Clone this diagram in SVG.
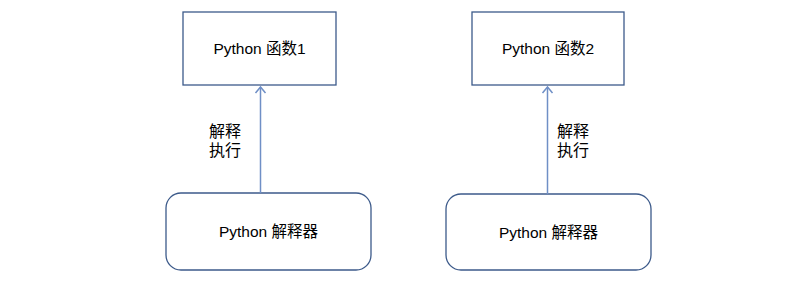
<svg xmlns="http://www.w3.org/2000/svg" width="801" height="281" viewBox="0 0 801 281">
<style>
.box{fill:#fff;stroke:#3c5a8a;stroke-width:1.3}
.rbox{fill:#fff;stroke:#3c5a8a;stroke-width:1.3}
.t{font-family:"Liberation Sans","Noto Sans CJK SC",sans-serif;font-size:15.5px;fill:#000;text-anchor:middle;dominant-baseline:central}
.lbl{font-family:"Liberation Sans","Noto Sans CJK SC",sans-serif;font-size:16px;fill:#000}
.edge{stroke:#6f8fc6;stroke-width:1.5;fill:none}
</style>
<rect width="801" height="281" fill="#fff"/>
<g id="func1"><rect class="box" x="183" y="12" width="153" height="73"/><text class="t" x="259.5" y="48.5">Python 函数1</text></g>
<g id="func2"><rect class="box" x="472" y="12" width="152" height="73"/><text class="t" x="548" y="48.5">Python 函数2</text></g>
<g id="interp1"><rect class="rbox" x="166" y="193" width="205" height="77" rx="15"/><text class="t" x="268.5" y="231.5">Python 解释器</text></g>
<g id="interp2"><rect class="rbox" x="446" y="194" width="205" height="76" rx="15"/><text class="t" x="548.5" y="232">Python 解释器</text></g>
<g id="connectors">
<path class="edge" d="M260.5 193 V87"/>
<path class="edge" d="M255.5 93 L260.5 87 L265.5 93"/>
<path class="edge" d="M547.5 194 V87"/>
<path class="edge" d="M542.5 93 L547.5 87 L552.5 93"/>
<text class="lbl" x="209" y="137">解释</text>
<text class="lbl" x="209" y="156">执行</text>
<text class="lbl" x="557" y="137">解释</text>
<text class="lbl" x="557" y="156">执行</text>
</g>
</svg>
